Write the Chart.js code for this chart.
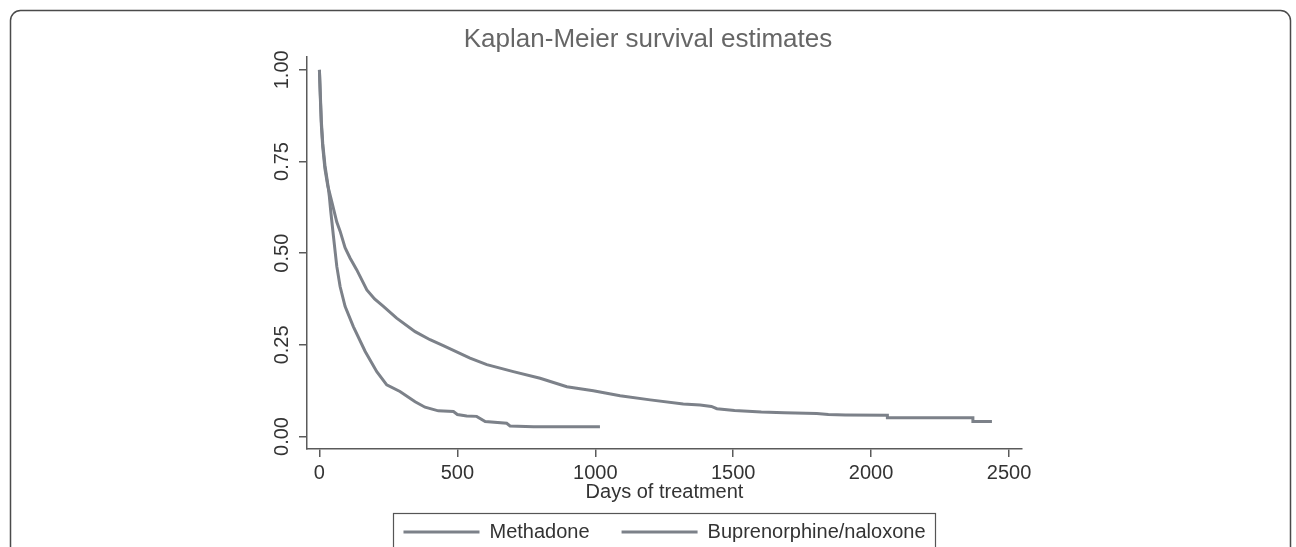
<!DOCTYPE html>
<html>
<head>
<meta charset="utf-8">
<title>Kaplan-Meier survival estimates</title>
<script src="https://cdn.jsdelivr.net/npm/chart.js@4.4.1/dist/chart.umd.min.js"></script>
<style>
  html, body { margin: 0; padding: 0; background: #fff; }
  #km { display: block; }
</style>
</head>
<body>
<canvas id="km" width="1296" height="547"></canvas>
<script>
// Values (days, survival probability)
const methadoneDays = [0, 3, 7, 12, 20, 30, 45, 63, 75, 93, 111, 135, 172, 200, 232, 280, 347, 401, 449, 546, 607, 703, 800, 897, 993, 1090, 1199, 1319, 1380, 1421, 1441, 1505, 1602, 1685, 1803, 1845, 1907, 2059, 2059, 2369, 2369, 2438];
const methadoneSurv = [1.0, 0.93, 0.85, 0.79, 0.73, 0.685, 0.64, 0.585, 0.56, 0.515, 0.487, 0.455, 0.40, 0.375, 0.355, 0.323, 0.286, 0.264, 0.248, 0.214, 0.196, 0.177, 0.159, 0.136, 0.125, 0.111, 0.100, 0.089, 0.086, 0.082, 0.076, 0.071, 0.067, 0.065, 0.063, 0.060, 0.059, 0.058, 0.051, 0.051, 0.041, 0.041];

const bupDays = [0, 3, 7, 12, 20, 30, 36, 41, 51, 63, 75, 93, 123, 166, 208, 244, 292, 347, 383, 431, 486, 500, 534, 570, 601, 679, 691, 776, 1017];
const bupSurv = [1.0, 0.94, 0.86, 0.80, 0.74, 0.69, 0.655, 0.615, 0.545, 0.464, 0.409, 0.355, 0.300, 0.232, 0.177, 0.141, 0.123, 0.095, 0.080, 0.070, 0.068, 0.060, 0.056, 0.055, 0.041, 0.036, 0.029, 0.027, 0.027];

const seriesNames = ['Methadone', 'Buprenorphine/naloxone'];
const xTickValues = [0, 500, 1000, 1500, 2000, 2500];
const yTickValues = [0, 0.25, 0.5, 0.75, 1];

const lineColor = '#7c8189';
const axisColor = '#5a5a5a';
const fontFamily = 'Liberation Sans, Arial, sans-serif';

function toPoints(days, surv) {
    return days.map((d, i) => ({ x: d, y: surv[i] }));
}

// Outer rounded frame and the box around the legend
const framePlugin = {
    id: 'frame',
    afterDraw(chart) {
        const ctx = chart.ctx;
        ctx.save();
        ctx.strokeStyle = '#4a4a4a';
        ctx.lineWidth = 1.5;
        ctx.beginPath();
        ctx.roundRect(10.5, 10.5, 1280, 560, 10);
        ctx.stroke();

        const boxes = chart.legend.legendHitBoxes;
        if (boxes && boxes.length) {
            const first = boxes[0];
            const last = boxes[boxes.length - 1];
            const left = first.left - 10;
            const right = last.left + last.width + 10;
            const top = first.top - 9;
            ctx.strokeStyle = '#555';
            ctx.lineWidth = 1.2;
            ctx.strokeRect(Math.round(left) + 0.5, Math.round(top) + 0.5, Math.round(right - left), 60);
        }
        ctx.restore();
    }
};

const ctx = document.getElementById('km').getContext('2d');
const kmChart = new Chart(ctx, {
    type: 'line',
    data: {
        datasets: [{
            label: seriesNames[0],
            data: toPoints(methadoneDays, methadoneSurv),
            borderColor: lineColor,
            backgroundColor: lineColor,
            borderWidth: 3,
            pointRadius: 0,
            tension: 0,
            fill: false
        }, {
            label: seriesNames[1],
            data: toPoints(bupDays, bupSurv),
            borderColor: lineColor,
            backgroundColor: lineColor,
            borderWidth: 3,
            pointRadius: 0,
            tension: 0,
            fill: false
        }]
    },
    options: {
        responsive: false,
        animation: false,
        layout: {
            padding: { left: 274, right: 274, top: 0, bottom: -5 }
        },
        plugins: {
            title: {
                display: true,
                text: 'Kaplan-Meier survival estimates',
                color: '#666',
                font: { family: fontFamily, size: 26, weight: 'normal' },
                padding: { top: 24, bottom: 1.8 }
            },
            legend: {
                position: 'bottom',
                fullSize: false,
                labels: {
                    usePointStyle: true,
                    pointStyle: 'line',
                    pointStyleWidth: 76,
                    boxWidth: 76,
                    padding: 32,
                    color: '#333',
                    font: { family: fontFamily, size: 20 }
                }
            },
            tooltip: { enabled: false }
        },
        scales: {
            x: {
                type: 'linear',
                min: -45,
                max: 2547,
                afterBuildTicks: scale => {
                    scale.ticks = xTickValues.map(v => ({ value: v }));
                },
                afterFit: scale => { scale.height = 41; },
                border: { display: true, color: axisColor, width: 1.5 },
                grid: { display: true, drawOnChartArea: false, drawTicks: true, tickLength: 8, color: axisColor, lineWidth: 1.5 },
                ticks: {
                    autoSkip: false,
                    minRotation: 0,
                    maxRotation: 0,
                    padding: 4,
                    color: '#333',
                    font: { family: fontFamily, size: 20 },
                    callback: v => String(v)
                },
                title: {
                    display: true,
                    text: 'Days of treatment',
                    color: '#333',
                    font: { family: fontFamily, size: 20 },
                    padding: { top: 0, bottom: -14 }
                }
            },
            y: {
                min: -0.034,
                max: 1.035,
                afterBuildTicks: scale => {
                    scale.ticks = yTickValues.map(v => ({ value: v }));
                },
                afterFit: scale => { scale.width = 33; },
                border: { display: true, color: axisColor, width: 1.5 },
                grid: { display: true, drawOnChartArea: false, drawTicks: true, tickLength: 8, color: axisColor, lineWidth: 1.5 },
                ticks: {
                    autoSkip: false,
                    minRotation: 90,
                    maxRotation: 90,
                    crossAlign: 'center',
                    padding: -3,
                    color: '#333',
                    font: { family: fontFamily, size: 20 },
                    callback: v => Number(v).toFixed(2)
                }
            }
        }
    },
    plugins: [framePlugin]
});
</script>
</body>
</html>
